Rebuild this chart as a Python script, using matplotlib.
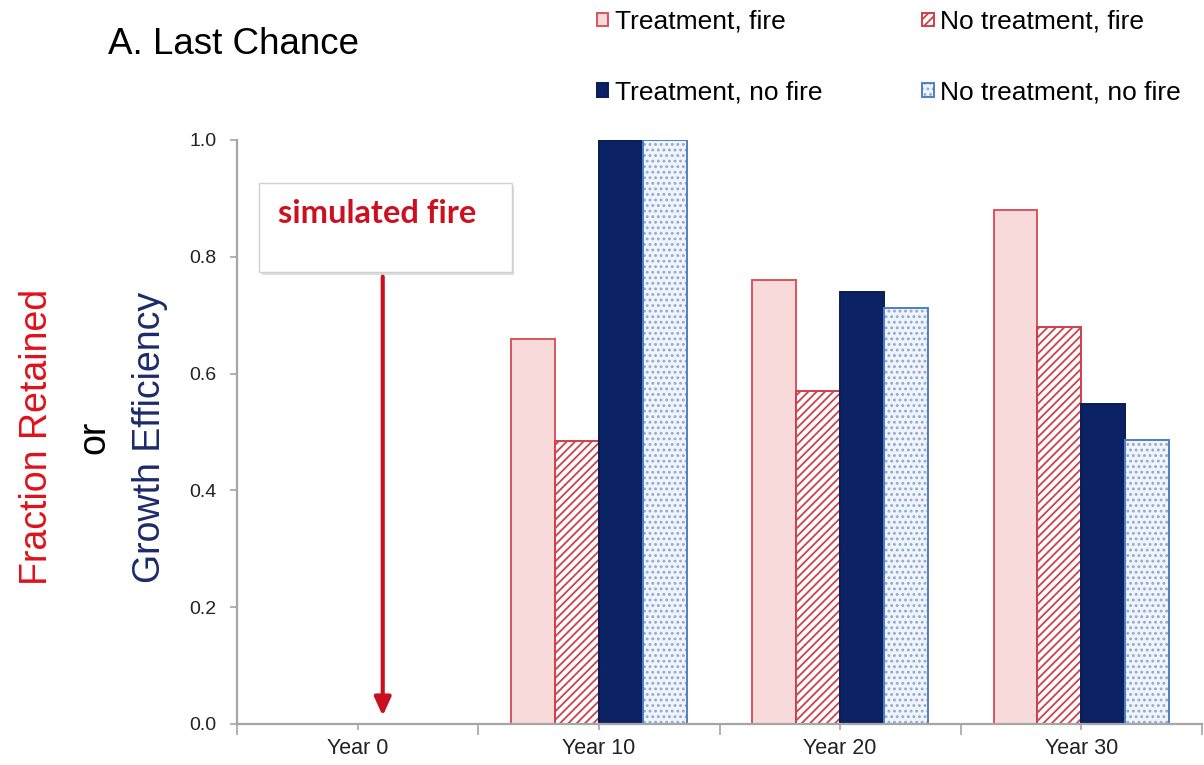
import numpy as np
import matplotlib
matplotlib.use('Agg')
import matplotlib.pyplot as plt
from matplotlib.patches import Rectangle

plt.rcParams['font.family'] = ['Liberation Sans', 'DejaVu Sans']
plt.rcParams['hatch.linewidth'] = 1.3

# bar heights per year (Year 0 has no bars)
years = ['Year 0', 'Year 10', 'Year 20', 'Year 30']
treat_fire = [np.nan, 0.66, 0.76, 0.88]
notreat_fire = [np.nan, 0.485, 0.57, 0.68]
treat_nofire = [np.nan, 1.0, 0.74, 0.548]
notreat_nofire = [np.nan, 1.0, 0.712, 0.486]

series_labels = ['Treatment, fire', 'No treatment, fire',
                 'Treatment, no fire', 'No treatment, no fire']
y_ticks = [0.0, 0.2, 0.4, 0.6, 0.8, 1.0]

fig = plt.figure(figsize=(12.04, 7.65), dpi=100)
ax = fig.add_axes([237 / 1204, 41 / 765, 965 / 1204, 584 / 765])

x = np.arange(len(years))
w = 0.182
offsets = [-1.5 * w, -0.5 * w, 0.5 * w, 1.5 * w]

b1 = ax.bar(x + offsets[0], treat_fire, w, color='#f9dada', edgecolor='#d8555c', lw=1.4)
b2 = ax.bar(x + offsets[1], notreat_fire, w, color='white', edgecolor='#cf4049',
            hatch='////', lw=1.4)
b3 = ax.bar(x + offsets[2], treat_nofire, w, color='#0b2265', edgecolor='#0a1c52', lw=1.4)
# dotted fill drawn in a pale tone, outline drawn on top in blue
b4 = ax.bar(x + offsets[3], notreat_nofire, w, color='#f0f5fc', edgecolor='#93a9d2',
            hatch='...', lw=0)
b4_edge = ax.bar(x + offsets[3], notreat_nofire, w, color='none', edgecolor='#4f7fc2',
                 lw=1.4)

ax.set_xlim(-0.5, 3.5)
ax.set_ylim(0, 1.0)
ax.set_yticks(y_ticks)
ax.set_yticklabels(['%.1f' % t for t in y_ticks])
ax.set_xticks(x)
ax.set_xticklabels(years)
ax.set_xticks(np.arange(-0.5, 4, 1), minor=True)

for side in ['top', 'right']:
    ax.spines[side].set_visible(False)
for side in ['left', 'bottom']:
    ax.spines[side].set_color('#a6a6a6')
    ax.spines[side].set_linewidth(1.6)

ax.tick_params(axis='y', which='major', direction='out', length=5, width=1.2,
               color='#a6a6a6', labelsize=14, labelcolor='#222222', pad=10)
ax.tick_params(axis='x', which='major', direction='out', length=4, width=1.2,
               color='#a6a6a6', labelsize=15.5, labelcolor='#222222', pad=6)
ax.tick_params(axis='x', which='minor', direction='out', length=8, width=1.2,
               color='#a6a6a6')

# simulated fire call-out box and arrow
ax.add_patch(Rectangle((-0.398, 0.769), 1.046, 0.152, facecolor='#dddddd',
                       edgecolor='none', zorder=3, clip_on=False))
ax.add_patch(Rectangle((-0.407, 0.774), 1.046, 0.152, facecolor='white',
                       edgecolor='#d0d0d0', lw=1.0, zorder=4, clip_on=False))
ax.text(0.08, 0.874, 'simulated fire', color='#cc1020', fontsize=23.5,
        fontweight='bold', family='Lato', ha='center', va='center', zorder=5)
ax.annotate('', xy=(0.104, 0.014), xytext=(0.104, 0.766),
            arrowprops=dict(arrowstyle='-|>,head_length=1.1,head_width=0.5',
                            lw=3.0, color='#c8101e', shrinkA=0, shrinkB=0,
                            mutation_scale=10))

# y label in three coloured lines
fig.text(37 / 1204, 1 - 437 / 765, 'Fraction Retained', color='#e0111b',
         fontsize=27, rotation=90, ha='center', va='center')
fig.text(94 / 1204, 1 - 437 / 765, 'or', color='black',
         fontsize=27, rotation=90, ha='center', va='center')
fig.text(150 / 1204, 1 - 437 / 765, 'Growth Efficiency', color='#1b2a6b',
         fontsize=27, rotation=90, ha='center', va='center')

fig.text(108 / 1204, 1 - 54 / 765, 'A. Last Chance', fontsize=26.5,
         va='baseline', ha='left')

handles = [b1, b3, b2, (b4, b4_edge)]
labels = [series_labels[0], series_labels[2], series_labels[1], series_labels[3]]
fig.legend(handles, labels, loc='upper left', bbox_to_anchor=(597 / 1204, 1 - 10 / 765),
           ncol=2, frameon=False, fontsize=19, handlelength=0.42, handleheight=0.42,
           handletextpad=0.25, columnspacing=3.8, labelspacing=1.75,
           borderaxespad=0, borderpad=0)

fig.savefig('out.png', dpi=100)
